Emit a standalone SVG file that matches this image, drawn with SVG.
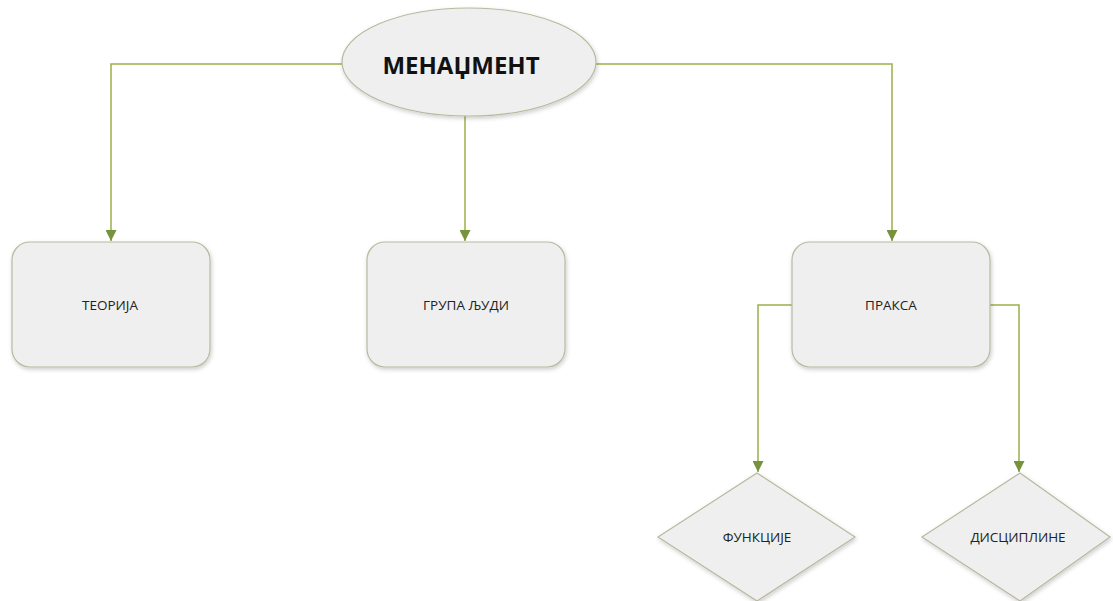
<svg xmlns="http://www.w3.org/2000/svg" width="1113" height="601" viewBox="0 0 1113 601">
<defs>
<style>
.node{fill:#efefef;stroke:#b9b9a0;stroke-width:1.2}
.lbl{font-family:"Open Sans","Liberation Sans",sans-serif;font-size:13.5px;font-weight:normal;fill:#222;text-anchor:middle;dominant-baseline:central}
.ttl{font-family:"Open Sans","Liberation Sans",sans-serif;font-size:24px;font-weight:bold;fill:#111;text-anchor:middle;dominant-baseline:central}
.con{fill:none;stroke:#9bb04a;stroke-width:1.5}
</style>
<marker id="arr" viewBox="0 0 10 10" refX="10" refY="5" markerWidth="11" markerHeight="11" markerUnits="userSpaceOnUse" orient="auto">
<path d="M0,0 L10,5 L0,10 Z" fill="#76923c"/>
</marker>
<filter id="sh" x="-10%" y="-10%" width="130%" height="130%">
<feDropShadow dx="1" dy="2" stdDeviation="2" flood-color="#000" flood-opacity="0.2"/>
</filter>
</defs>
<rect width="1113" height="601" fill="#ffffff"/>
<g id="connectors">
<path class="con" d="M342,64 H111 V241" marker-end="url(#arr)"/>
<path class="con" d="M465,116 V241" marker-end="url(#arr)"/>
<path class="con" d="M596,64 H892 V241" marker-end="url(#arr)"/>
<path class="con" d="M792,305 H758 V472" marker-end="url(#arr)"/>
<path class="con" d="M990,305 H1019 V472" marker-end="url(#arr)"/>
</g>
<g id="menadzment">
<ellipse class="node" cx="469" cy="62" rx="127" ry="54" filter="url(#sh)"/>
<text class="ttl" x="461" y="64">МЕНАЏМЕНТ</text>
</g>
<g id="teorija">
<rect class="node" x="12" y="242" width="198" height="125" rx="18" filter="url(#sh)"/>
<text class="lbl" x="110" y="305">ТЕОРИЈА</text>
</g>
<g id="grupa">
<rect class="node" x="367" y="242" width="198" height="125" rx="18" filter="url(#sh)"/>
<text class="lbl" x="466" y="305">ГРУПА ЉУДИ</text>
</g>
<g id="praksa">
<rect class="node" x="792" y="242" width="198" height="125" rx="18" filter="url(#sh)"/>
<text class="lbl" x="891" y="305">ПРАКСА</text>
</g>
<g id="funkcije">
<polygon class="node" points="757,473 855,537 757,601 658,537" filter="url(#sh)"/>
<text class="lbl" x="757" y="537">ФУНКЦИЈЕ</text>
</g>
<g id="discipline">
<polygon class="node" points="1020,473 1110,537 1020,601 922,537" filter="url(#sh)"/>
<text class="lbl" x="1018" y="537">ДИСЦИПЛИНЕ</text>
</g>
</svg>
